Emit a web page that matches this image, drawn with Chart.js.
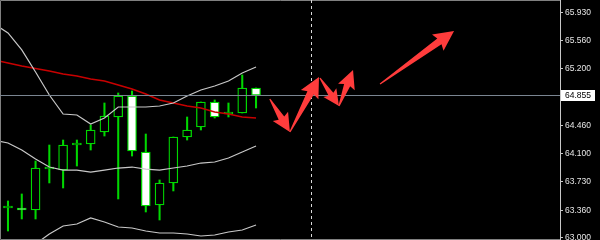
<!DOCTYPE html>
<html>
<head>
<meta charset="utf-8">
<script src="https://cdn.jsdelivr.net/npm/chart.js@4"></script>
<style>
  html, body { margin: 0; padding: 0; background: #000; }
  #wrap { width: 600px; height: 240px; }
</style>
</head>
<body>
<div id="wrap"><canvas id="chart"></canvas></div>
<script>
// candles, oldest first (x = bar index)
const opens  = [63.390, 63.390, 63.364, 63.896, 63.883, 64.208, 64.221, 64.377, 64.572, 64.845,
                64.117, 63.429, 63.715, 64.312, 64.442, 64.767, 64.611, 64.624, 64.949];
const highs  = [63.481, 63.572, 64.000, 64.208, 64.273, 64.273, 64.468, 64.754, 64.884, 64.910,
                64.351, 63.754, 64.312, 64.572, 64.767, 64.793, 64.754, 65.118, 64.949];
const lows   = [63.091, 63.247, 63.247, 63.715, 63.650, 63.935, 64.143, 64.325, 63.507, 64.065,
                63.338, 63.234, 63.611, 64.273, 64.403, 64.559, 64.572, 64.624, 64.689];
const closes = [63.390, 63.364, 63.909, 63.896, 64.208, 64.234, 64.403, 64.585, 64.845, 64.130,
                63.416, 63.715, 64.312, 64.403, 64.767, 64.572, 64.611, 64.949, 64.855];

// indicator lines, starting one bar before the first visible candle
const lineStart = -1;
const bandUpper = [65.781, 65.664, 65.443, 65.157, 64.858, 64.611, 64.598, 64.481, 64.559, 64.702,
                   64.702, 64.702, 64.715, 64.754, 64.845, 64.923, 64.975, 65.040, 65.144, 65.222];
const bandMid   = [64.273, 64.234, 64.143, 64.026, 63.922, 63.883, 63.883, 63.857, 63.883, 63.909,
                   63.922, 63.896, 63.883, 63.909, 63.935, 63.974, 63.987, 64.039, 64.117, 64.195];
const bandLower = [62.558, 62.688, 62.818, 62.922, 63.052, 63.156, 63.182, 63.260, 63.208, 63.143,
                   63.130, 63.091, 63.065, 63.065, 63.052, 63.026, 63.039, 63.078, 63.104, 63.169];
const maLine    = [65.313, 65.274, 65.235, 65.202, 65.170, 65.131, 65.105, 65.066, 65.040, 64.988,
                   64.936, 64.871, 64.793, 64.754, 64.715, 64.689, 64.637, 64.611, 64.572, 64.559];

// right axis ticks
const priceTicks = [65.930, 65.560, 65.200, 64.460, 64.100, 63.730, 63.360, 63.000];
const lastPrice = 64.855;
const cursorBar = 22;

// hand drawn arrows: [bar, price] from -> to
const arrowFrom = [[19.00, 64.806], [20.46, 64.377], [22.64, 65.079], [24.02, 64.715], [27.00, 65.001]];
const arrowTo   = [[20.46, 64.377], [22.57, 65.092], [24.02, 64.715], [25.04, 65.183], [32.37, 65.690]];

const GREEN = '#00d800';
const barIdx = opens.map((_, i) => i);
const lineIdx = bandUpper.map((_, k) => k + lineStart);
const toPts = arr => arr.map((v, k) => ({x: lineIdx[k], y: v}));

const overlay = {
  id: 'overlay',
  afterDatasetsDraw(chart) {
    const {ctx, chartArea: a, scales: {x, y}} = chart;
    ctx.save();
    // frame
    ctx.strokeStyle = '#808080';
    ctx.lineWidth = 1;
    ctx.beginPath();
    ctx.moveTo(a.right, a.top + 0.5); ctx.lineTo(a.left + 0.5, a.top + 0.5);
    ctx.lineTo(a.left + 0.5, a.bottom - 0.5); ctx.lineTo(a.right, a.bottom - 0.5);
    ctx.stroke();
    // bid line
    const py = Math.round(y.getPixelForValue(lastPrice)) + 0.5;
    ctx.strokeStyle = '#7a8591';
    ctx.beginPath(); ctx.moveTo(a.left, py); ctx.lineTo(a.right, py); ctx.stroke();
    // cursor line
    const px = Math.round(x.getPixelForValue(cursorBar)) + 0.5;
    ctx.strokeStyle = '#d8d8d8';
    ctx.setLineDash([3, 3]);
    ctx.beginPath(); ctx.moveTo(px, a.top); ctx.lineTo(px, a.bottom); ctx.stroke();
    ctx.setLineDash([]);
    // arrows
    ctx.fillStyle = '#ff3c3c';
    arrowFrom.forEach((f, k) => {
      const t = arrowTo[k];
      const x0 = x.getPixelForValue(f[0]), y0 = y.getPixelForValue(f[1]);
      const x1 = x.getPixelForValue(t[0]), y1 = y.getPixelForValue(t[1]);
      const len = Math.hypot(x1 - x0, y1 - y0);
      const ux = (x1 - x0) / len, uy = (y1 - y0) / len;
      const nx = -uy, ny = ux;
      const hl = Math.min(18, len * 0.42), hw = hl * 0.55, sw = hl * 0.2;
      const bx = x1 - ux * hl, by = y1 - uy * hl;
      ctx.beginPath();
      ctx.moveTo(x0 + nx * 0.6, y0 + ny * 0.6);
      ctx.lineTo(bx + nx * sw, by + ny * sw);
      ctx.lineTo(bx - ux * 2 + nx * hw, by - uy * 2 + ny * hw);
      ctx.lineTo(x1, y1);
      ctx.lineTo(bx - ux * 2 - nx * hw, by - uy * 2 - ny * hw);
      ctx.lineTo(bx - nx * sw, by - ny * sw);
      ctx.lineTo(x0 - nx * 0.6, y0 - ny * 0.6);
      ctx.closePath();
      ctx.fill();
    });
    ctx.restore();
  },
  afterDraw(chart) {
    const {ctx, chartArea: a, scales: {y}} = chart;
    const py = Math.round(y.getPixelForValue(lastPrice));
    ctx.save();
    ctx.fillStyle = '#fff';
    ctx.fillRect(a.right + 1, py - 5, 34, 11);
    ctx.fillStyle = '#000';
    ctx.font = '8.5px "Liberation Sans"';
    ctx.textBaseline = 'middle';
    ctx.fillText(lastPrice.toFixed(3), a.right + 5, py + 0.5);
    ctx.restore();
  }
};

new Chart(document.getElementById('chart'), {
  type: 'bar',
  data: {
    datasets: [{
      label: 'wicks',
      data: barIdx.map(i => ({x: i, y: [lows[i], highs[i]]})),
      backgroundColor: GREEN,
      barThickness: 1.4,
      grouped: false,
      order: 2
    }, {
      label: 'bodies',
      data: barIdx.map(i => ({x: i, y: [opens[i], closes[i]]})),
      backgroundColor: barIdx.map(i => closes[i] >= opens[i] ? '#000' : '#fff'),
      borderColor: GREEN,
      borderWidth: 1.3,
      borderSkipped: false,
      barThickness: 9,
      minBarLength: 2,
      grouped: false,
      order: 1
    }, {
      type: 'line', label: 'upper', data: toPts(bandUpper),
      borderColor: '#c8c8c8', borderWidth: 1.2, pointRadius: 0, order: 0
    }, {
      type: 'line', label: 'mid', data: toPts(bandMid),
      borderColor: '#c8c8c8', borderWidth: 1.2, pointRadius: 0, order: 0
    }, {
      type: 'line', label: 'lower', data: toPts(bandLower),
      borderColor: '#c8c8c8', borderWidth: 1.2, pointRadius: 0, order: 0
    }, {
      type: 'line', label: 'ma', data: toPts(maLine),
      borderColor: '#c80000', borderWidth: 1.6, pointRadius: 0, order: 0
    }]
  },
  options: {
    responsive: true,
    maintainAspectRatio: false,
    animation: false,
    events: [],
    layout: { padding: 0 },
    plugins: { legend: { display: false }, tooltip: { enabled: false } },
    scales: {
      x: { type: 'linear', min: -0.58, max: 40.06, display: false, offset: false },
      y: {
        position: 'right',
        min: 62.974, max: 66.092,
        afterBuildTicks: s => { s.ticks = priceTicks.map(v => ({value: v})); },
        afterFit: s => { s.width = 40; s.paddingTop = 0; s.paddingBottom = 0; },
        border: { color: '#c8c8c8' },
        grid: { drawOnChartArea: false, color: '#c8c8c8', tickLength: 3 },
        ticks: {
          color: '#e6e6e6', padding: 2, autoSkip: false,
          font: { family: 'Liberation Sans', size: 8.5 },
          callback: v => v.toFixed(3)
        }
      }
    }
  },
  plugins: [overlay]
});
</script>
</body>
</html>
